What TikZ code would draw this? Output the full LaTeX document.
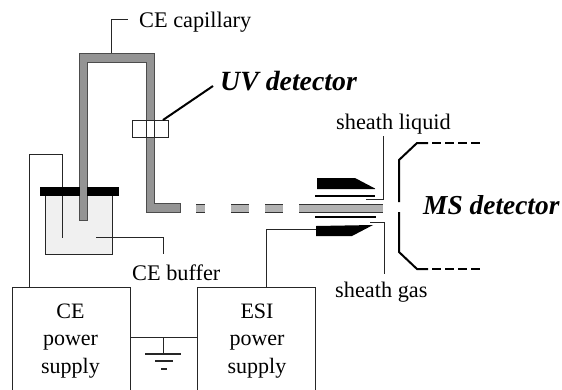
\documentclass[tikz,border=0pt]{standalone}
\usepackage{fontspec}
\setmainfont{Liberation Serif}
\tikzset{
  x=1pt,y=-1pt,
  lbl/.style={inner sep=0pt,anchor=base west,font=\fontsize{22.3}{26}\selectfont},
  big/.style={inner sep=0pt,anchor=base west,font=\fontsize{27.8}{30}\selectfont\bfseries\itshape},
  bigms/.style={big,font=\fontsize{27.4}{30}\selectfont\bfseries\itshape},
  psu/.style={inner sep=0pt,align=center,anchor=center,font=\fontsize{22}{27.5}\selectfont},
  wire/.style={draw=black!85,line width=0.9pt},
  box/.style={draw=black!85,line width=1.1pt,inner sep=0pt,minimum width=118pt,minimum height=110pt,anchor=north west},
  tube/.style={fill=black!42,draw=black!70,line width=0.6pt},
  segline/.style={draw=black!80,line width=0.9pt},
  ms/.style={draw=black,line width=2pt},
}
\begin{document}
\begin{tikzpicture}
\path[use as bounding box,clip] (0,0) rectangle (562,389);
\fill[white] (0,0) rectangle (562,389);
% boxes
\node[box] (ce) at (12,287) {};
\node[box] (esi) at (197,287) {};
\node[psu] (cet) at (70.5,341) {CE\\power\\supply};
\node[psu] (esit) at (257,341) {ESI\\power\\supply};
% beaker
\fill[black!6] (45,196) rectangle (112,254);
\draw[wire] (45,196) -- (45,254) -- (112,254) -- (112,196);
% electrode
\coordinate (e0) at (29,287);
\coordinate (e3) at (62,238);
\draw[wire] (e0) -- (29,154) -- (62,154) -- (e3);
% capillary
\path[tube,even odd rule] (79,220) -- (79,53) -- (154,53) -- (154,203) -- (180,203) -- (180,212) -- (146,212) -- (146,62) -- (87,62) -- (87,220) -- cycle;
\fill[black] (40,187) rectangle (119,196);
\fill[black!42] (79.5,186) rectangle (86.5,197);
% dashes of the capillary
\foreach \a/\b in {196/205,231/249,265/283,299/383}{
  \fill[black!30] (\a,203.5) rectangle (\b,212.5);
  \draw[segline] (\a,204) -- (\b,204) (\a,212) -- (\b,212);
}
% UV detector
\node[draw=black!85,fill=white,line width=1pt,minimum width=36pt,minimum height=17pt,inner sep=0pt,anchor=north west] (uv) at (132,120) {};
\draw[wire] (146,120) -- (146,137) (154,120) -- (154,137);
\node[big] (uvt) at (220,90) {UV detector};
\coordinate (uvend) at (213,86);
\draw[line width=2pt,draw=black] (163,120) -- (uvend);
% labels
\node[lbl] (capt) at (139,27) {CE capillary};
\coordinate (capend) at (128,19);
\draw[wire] (111,53) -- (111,19) -- (capend);
\node[lbl] (buf) at (132,280) {CE buffer};
\coordinate (bufstart) at (96,237);
\draw[wire] (bufstart) -- (163,237) -- (163,254);
\node[lbl] (liq) at (336,129) {sheath liquid};
\node[lbl] (gas) at (335,297) {sheath gas};
\node[bigms] (mst) at (423,214) {MS detector};
% ground
\draw[wire] (ce.north east |- 0,337) -- (esi.north west |- 0,337);
\draw[wire] (163,337) -- (163,354);
\draw[wire,line width=1.1pt] (145,354) -- (181,354) (155,361) -- (173,361) (161,369) -- (167,369);
% ESI lead
\coordinate (esitop) at (266,287);
\coordinate (needle) at (317,229);
\draw[wire] (esitop) -- (266,229) -- (needle);
% sprayer
\fill[black] (317,178) -- (355,178) -- (375,188.5) -- (375,189) -- (317,189) -- cycle;
\fill[black] (316,226) -- (373,225) -- (352,236) -- (316,236) -- cycle;
\draw[black,line width=2.6pt] (315,196) -- (375,196) (315,217) -- (376,217);
\draw[wire] (366,199.5) -- (383,199.5) -- (383,136);
\draw[wire] (370,222) -- (384,222) -- (384,274);
% MS inlet
\draw[ms,line cap=butt] (399,202) -- (399,160) -- (417,143) -- (428,143);
\draw[ms,line cap=butt] (399,212) -- (399,252) -- (417,269) -- (428,269);
\draw[ms,dash pattern=on 9pt off 4pt] (432,143) -- (483,143) (432,269) -- (483,269);
\end{tikzpicture}
\end{document}
